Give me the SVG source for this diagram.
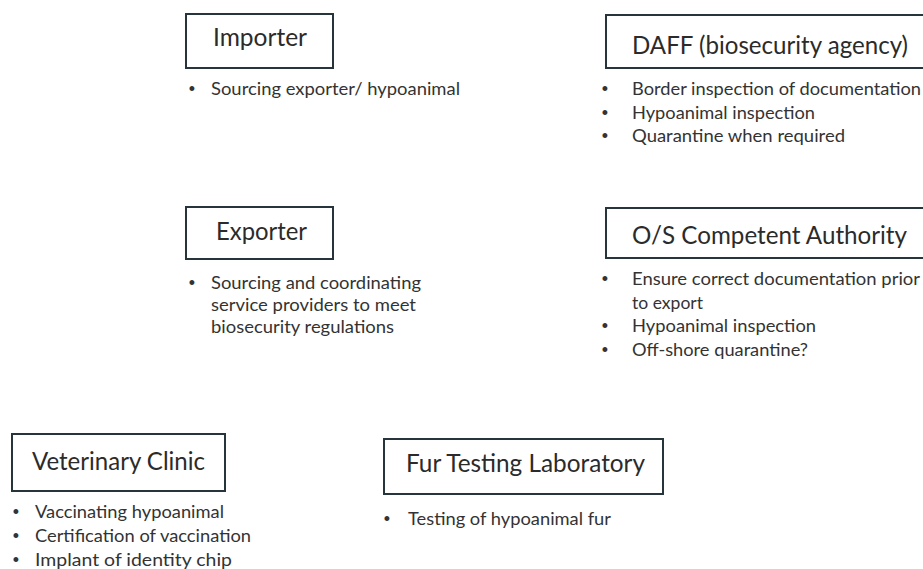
<svg xmlns="http://www.w3.org/2000/svg" width="923" height="569" viewBox="0 0 923 569">
  <style>
    .box { fill: #ffffff; stroke: #26343b; stroke-width: 2; }
    .title { font-family: Lato, "Open Sans", "Liberation Sans", sans-serif; font-size: 24.5px; fill: #2b2b2b; }
    .item { font-family: Lato, "Open Sans", "Liberation Sans", sans-serif; font-size: 18px; fill: #333333; }
    .dot { font-family: "Liberation Sans", sans-serif; font-size: 18px; fill: #333333; text-anchor: middle; }
  </style>
  <rect width="923" height="569" fill="#ffffff"/>

  <!-- Importer -->
  <g id="importer">
    <rect class="box" x="186" y="14" width="147" height="54"/>
    <text class="title" x="213" y="46" textLength="94" lengthAdjust="spacingAndGlyphs">Importer</text>
    <text class="dot" x="192" y="95">•</text>
    <text class="item" x="211" y="95" textLength="249" lengthAdjust="spacingAndGlyphs">Sourcing exporter/ hypoanimal</text>
  </g>

  <!-- DAFF -->
  <g id="daff">
    <rect class="box" x="606" y="15" width="330" height="53"/>
    <text class="title" x="632" y="53.5" textLength="276" lengthAdjust="spacingAndGlyphs">DAFF (biosecurity agency)</text>
    <text class="dot" x="605" y="95">•</text>
    <text class="item" x="632" y="95" textLength="289" lengthAdjust="spacingAndGlyphs">Border inspection of documentation</text>
    <text class="dot" x="605" y="118.5">•</text>
    <text class="item" x="632" y="118.5" textLength="183" lengthAdjust="spacingAndGlyphs">Hypoanimal inspection</text>
    <text class="dot" x="605" y="142">•</text>
    <text class="item" x="632" y="142" textLength="213" lengthAdjust="spacingAndGlyphs">Quarantine when required</text>
  </g>

  <!-- Exporter -->
  <g id="exporter">
    <rect class="box" x="186" y="207" width="147" height="52"/>
    <text class="title" x="216" y="240" textLength="91" lengthAdjust="spacingAndGlyphs">Exporter</text>
    <text class="dot" x="192" y="289">•</text>
    <text class="item" x="211" y="289" textLength="210" lengthAdjust="spacingAndGlyphs">Sourcing and coordinating</text>
    <text class="item" x="211" y="311" textLength="205" lengthAdjust="spacingAndGlyphs">service providers to meet</text>
    <text class="item" x="211" y="333" textLength="183" lengthAdjust="spacingAndGlyphs">biosecurity regulations</text>
  </g>

  <!-- O/S Competent Authority -->
  <g id="os-authority">
    <rect class="box" x="606" y="208" width="330" height="50"/>
    <text class="title" x="632" y="244" textLength="275" lengthAdjust="spacingAndGlyphs">O/S Competent Authority</text>
    <text class="dot" x="605" y="284.5">•</text>
    <text class="item" x="632" y="284.5" textLength="288" lengthAdjust="spacingAndGlyphs">Ensure correct documentation prior</text>
    <text class="item" x="632" y="308.5" textLength="71" lengthAdjust="spacingAndGlyphs">to export</text>
    <text class="dot" x="605" y="332">•</text>
    <text class="item" x="632" y="332" textLength="184" lengthAdjust="spacingAndGlyphs">Hypoanimal inspection</text>
    <text class="dot" x="605" y="356">•</text>
    <text class="item" x="632" y="356" textLength="176" lengthAdjust="spacingAndGlyphs">Off-shore quarantine?</text>
  </g>

  <!-- Veterinary Clinic -->
  <g id="vet-clinic">
    <rect class="box" x="12" y="434" width="213" height="57"/>
    <text class="title" x="32" y="470" textLength="173" lengthAdjust="spacingAndGlyphs">Veterinary Clinic</text>
    <text class="dot" x="16" y="518">•</text>
    <text class="item" x="35" y="518" textLength="189" lengthAdjust="spacingAndGlyphs">Vaccinating hypoanimal</text>
    <text class="dot" x="16" y="542">•</text>
    <text class="item" x="35" y="542" textLength="216" lengthAdjust="spacingAndGlyphs">Certification of vaccination</text>
    <text class="dot" x="16" y="566">•</text>
    <text class="item" x="35" y="566" textLength="197" lengthAdjust="spacingAndGlyphs">Implant of identity chip</text>
  </g>

  <!-- Fur Testing Laboratory -->
  <g id="fur-lab">
    <rect class="box" x="384" y="439" width="279" height="55"/>
    <text class="title" x="406" y="472" textLength="239" lengthAdjust="spacingAndGlyphs">Fur Testing Laboratory</text>
    <text class="dot" x="387" y="525">•</text>
    <text class="item" x="408" y="525" textLength="203" lengthAdjust="spacingAndGlyphs">Testing of hypoanimal fur</text>
  </g>

  <!-- no connectors are drawn between the nodes -->
  <g id="connectors"/>
</svg>
